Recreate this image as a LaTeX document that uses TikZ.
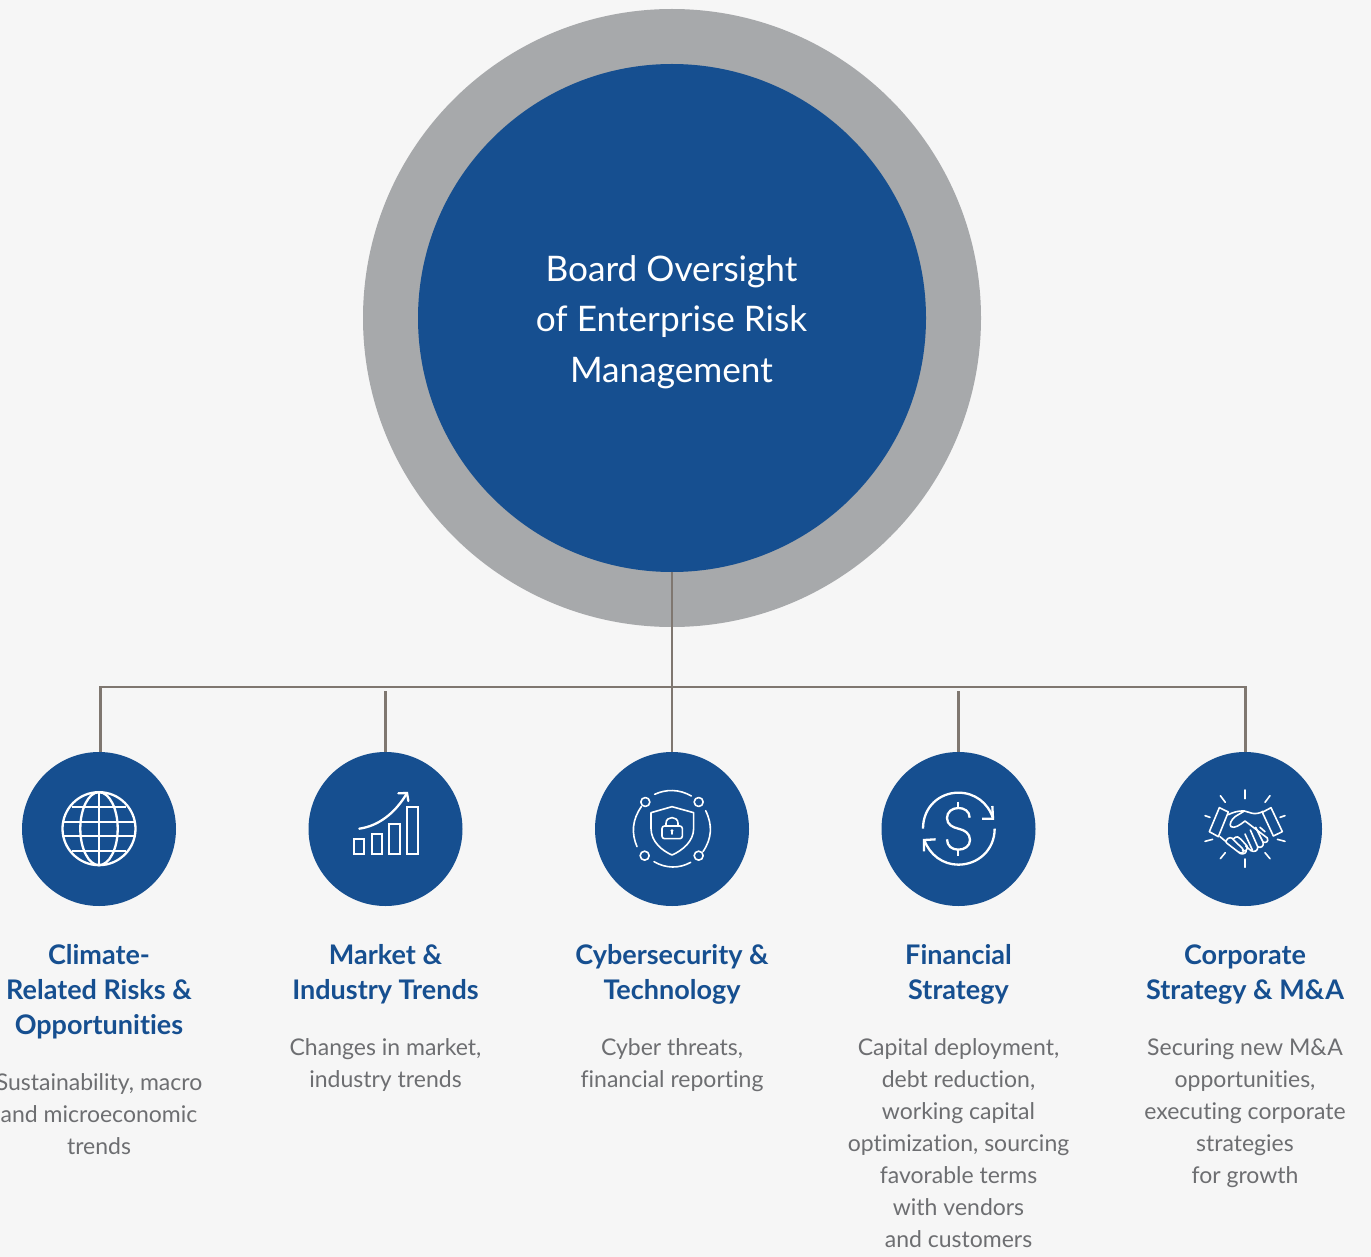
\documentclass[tikz,border=0pt]{standalone}
\usepackage{fontspec}
\setmainfont[Ligatures=NoCommon]{Lato}
\definecolor{bg}{HTML}{F6F6F6}
\definecolor{ringgray}{HTML}{A7A9AB}
\definecolor{navy}{HTML}{164F90}
\definecolor{linkc}{HTML}{7F7770}
\definecolor{bodyc}{HTML}{6D6E71}
\tikzset{
  hub/.style={circle,fill=navy,draw=none,minimum size=154pt,inner sep=0pt,outer sep=0pt},
  link/.style={draw=linkc,line width=2.6pt},
  head/.style={text=navy,align=center,anchor=north,inner sep=0pt,font=\fontsize{27}{35}\selectfont\bfseries},
  desc/.style={text=bodyc,align=center,anchor=north,inner sep=0pt,font=\fontsize{23}{32}\selectfont},
  ico/.style={draw=white,line width=2.3pt,fill=none},
  ict/.style={draw=white,line width=1.6pt,fill=none,line join=round,line cap=round},
  zoomed/.style={x=0.33333pt,y=-0.33333pt}
}
\begin{document}
\begin{tikzpicture}[x=1pt,y=-1pt]
\useasboundingbox (0,0) rectangle (1371,1257);
\clip (0,0) rectangle (1371,1257);
\fill[bg] (0,0) rectangle (1371,1257);
\node[circle,fill=ringgray,minimum size=618pt,inner sep=0pt,outer sep=0pt] (ring) at (672,318) {};
\node[circle,fill=navy,minimum size=508pt,inner sep=0pt,outer sep=0pt] (core) at (672,318) {};
\node[text=white,align=center,inner sep=0pt,font=\fontsize{35.2}{50.5}\selectfont] (coretext) at (671.5,322) {Board Oversight\\of Enterprise Risk\\Management};
\node[hub] (c1) at (99,829) {};
\node[hub] (c2) at (385.5,829) {};
\node[hub] (c3) at (672,829) {};
\node[hub] (c4) at (958.5,829) {};
\node[hub] (c5) at (1245,829) {};
\coordinate (busL) at (100.5,687);
\coordinate (busR) at (1245.5,687);
\coordinate (stub2) at (385.5,691);
\coordinate (stub4) at (958.5,691);
\draw[link] (core.south) -- (c3.north);
\draw[link] (c1.north -| busL) -- (busL) -- (busR) -- (c5.north -| busR);
\draw[link] (stub2) -- (c2.north);
\draw[link] (stub4) -- (c4.north);
% globe
\begin{scope}[shift={(20,750)},zoomed]
\draw[ico] (237,236) circle[radius=36.5pt];
\draw[ico] (237,236) ellipse[x radius=18.7pt,y radius=36.5pt];
\draw[ico] (237,126) -- (237,346);
\draw[ico] (155,172) -- (319,172);
\draw[ico] (130,215) -- (344,215);
\draw[ico] (130,258) -- (344,258);
\draw[ico] (155,302) -- (319,302);
\end{scope}
% chart
\begin{scope}[shift={(305,750)},zoomed]
\draw[ico] (147,267) rectangle (178,312);
\draw[ico] (200,253) rectangle (231,312);
\draw[ico] (253,222) rectangle (284,312);
\draw[ico] (307,170) rectangle (338,312);
\draw[ico,line cap=round] (163,236) .. controls (220,228) and (270,190) .. (305,131);
\draw[ico,line cap=round,line join=miter] (280,130) -- (306,129) -- (310,153);
\end{scope}
% shield
\begin{scope}[shift={(592,750)},zoomed]
\draw[ict] (188,133) .. controls (222,117) and (262,117) .. (298,138);
\draw[ict] (341,182) .. controls (362,225) and (360,265) .. (333,305);
\draw[ict] (296,337) .. controls (262,356) and (222,356) .. (186,335);
\draw[ict] (135,290) .. controls (118,250) and (120,210) .. (148,170);
\draw[ict] (160,156) circle[radius=4.5pt];
\draw[ict] (320,156) circle[radius=4.5pt];
\draw[ict] (158,317) circle[radius=4.5pt];
\draw[ict] (320,317) circle[radius=4.5pt];
\draw[ict] (240,170) -- (305,188) -- (305,235) .. controls (305,275) and (270,302) .. (240,315) .. controls (210,302) and (177,275) .. (177,235) -- (177,188) -- cycle;
\draw[ict,rounded corners=2.5pt] (210,228) rectangle (271,266);
\draw[ict] (222,228) -- (222,220) .. controls (222,197) and (258,197) .. (258,220) -- (258,228);
\fill[white] (240,242) circle[radius=1.6pt];
\draw[ict] (240,243) -- (240,252);
\end{scope}
% dollar
\begin{scope}[shift={(878,750)},zoomed]
\draw[ico] (135,236) .. controls (135,170) and (185,128) .. (241,128) .. controls (290,128) and (330,158) .. (345,205);
\draw[ico,line join=miter] (312,206) -- (345,206) -- (343,168);
\draw[ico] (350,236) .. controls (350,300) and (300,344) .. (241,344) .. controls (195,344) and (155,315) .. (139,270);
\draw[ico,line join=miter] (173,268) -- (138,270) -- (138,304);
\draw[ico] (241,155) -- (241,175);
\draw[ico] (241,298) -- (241,318);
\draw[ico] (275,203) .. controls (275,183) and (258,174) .. (241,174) .. controls (222,174) and (207,186) .. (207,204) .. controls (207,224) and (224,232) .. (241,236) .. controls (260,240) and (276,250) .. (276,270) .. controls (276,288) and (260,299) .. (241,299) .. controls (222,299) and (207,288) .. (207,268);
\end{scope}
% handshake
\begin{scope}[shift={(1165,750)},zoomed]
\draw[ict] (240,120) -- (240,146);
\draw[ict] (166,137) -- (181,157);
\draw[ict] (315,137) -- (300,157);
\draw[ict] (120,197) -- (135,202);
\draw[ict] (360,197) -- (345,202);
\draw[ict] (120,274) -- (143,268);
\draw[ict] (360,274) -- (337,268);
\draw[ict] (166,326) -- (181,308);
\draw[ict] (315,326) -- (300,308);
\draw[ict] (240,327) -- (240,352);
\draw[ict] (163,173) -- (190,186) -- (160,260) -- (133,245) -- cycle;
\draw[ict] (318,173) -- (292,187) -- (325,258) -- (352,245) -- cycle;
\draw[ict] (190,194) .. controls (205,186) and (222,182) .. (238,183) -- (262,190) .. controls (272,192) and (284,190) .. (294,184);
\draw[ict] (238,183) -- (210,200) .. controls (198,210) and (192,224) .. (198,230) .. controls (208,236) and (224,226) .. (240,213) -- (307,264);
\draw[ict] (307,264) .. controls (312,275) and (302,280) .. (294,276) .. controls (298,288) and (288,296) .. (278,290) .. controls (280,302) and (268,308) .. (258,302) -- (242,288);
\draw[ict] (256,240) -- (278,290);
\draw[ict] (240,252) -- (262,300);
\draw[ict] (272,232) -- (294,276);
\draw[ict] (165,260) -- (182,274);
\draw[ict] (182,274) .. controls (190,258) and (202,262) .. (206,270) -- (232,295) .. controls (242,305) and (230,314) .. (220,306) -- (186,280) -- (182,274);
\draw[ict] (206,266) .. controls (214,256) and (224,262) .. (228,268) -- (246,288) .. controls (250,298) and (240,308) .. (232,300);
\draw[ict] (220,306) .. controls (226,314) and (240,314) .. (244,304);
\draw[ict] (285,232) -- (300,245);
\end{scope}
% labels
\node[head] (h1) at (99,944) {Climate-\\Related Risks \&\\Opportunities};
\node[head] (h2) at (385.5,944) {Market \&\\Industry Trends};
\node[head] (h3) at (672,944) {Cybersecurity \&\\Technology};
\node[head] (h4) at (958.5,944) {Financial\\Strategy};
\node[head] (h5) at (1245,944.5) {Corporate\\Strategy \& M\&A};
\node[desc] (d1) at (99,1073) {Sustainability, macro\\and microeconomic\\trends};
\node[desc] (d2) at (385.5,1038.2) {Changes in market,\\industry trends};
\node[desc] (d3) at (672,1038.2) {Cyber threats,\\financial reporting};
\node[desc] (d4) at (958.5,1038.2) {Capital deployment,\\debt reduction,\\working capital\\optimization, sourcing\\favorable terms\\with vendors\\and customers};
\node[desc] (d5) at (1245,1038.2) {Securing new M\&A\\opportunities,\\executing corporate\\strategies\\for growth};
\end{tikzpicture}
\end{document}
